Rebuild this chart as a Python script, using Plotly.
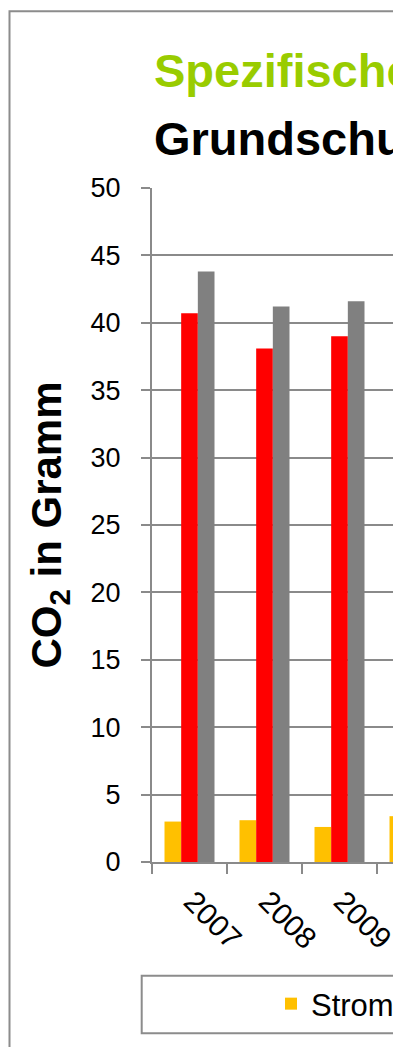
import plotly.graph_objects as go

# ---- data ----
years = ["2007", "2008", "2009", "2010"]
strom = [3.0, 3.1, 2.6, 3.4]
waerme = [40.7, 38.1, 39.0, None]
gesamt = [43.8, 41.2, 41.6, None]
series_names = ["Strom", "Wärme", "Gesamt"]
series_colors = ["#FFC000", "#FF0000", "#808080"]
title_line1 = "Spezifische CO₂-Emissionen"
title_line2 = "Grundschule"
y_title = "CO<sub>2</sub> in Gramm"
y_ticks = [0, 5, 10, 15, 20, 25, 30, 35, 40, 45, 50]

FONT = "Liberation Sans, Arial, sans-serif"
GRID = "#8a8a8a"

W, H = 385, 1047
ML, MR, MT, MB = 144, 0, 180, 193
PW = W - ML - MR
PH = H - MT - MB


def px_x(x):
    return (x - ML) / PW


def px_y(y):
    return (H - MB - y) / PH


fig = go.Figure()
for name, vals, col, show in zip(series_names, [strom, waerme, gesamt], series_colors, [True, False, False]):
    fig.add_trace(go.Bar(x=years, y=vals, name=name, marker=dict(color=col, line=dict(width=0)),
                         showlegend=show))

fig.update_layout(
    width=W, height=H,
    margin=dict(l=ML, r=MR, t=MT, b=MB, autoexpand=False),
    paper_bgcolor="white", plot_bgcolor="white",
    barmode="group", bargap=1/3, bargroupgap=0,
    font=dict(family=FONT, color="black"),
    showlegend=True,
    legend=dict(orientation="h", x=px_x(263), xanchor="left", y=px_y(969), yanchor="top",
                font=dict(size=31, family=FONT, color="black"), borderwidth=0,
                bgcolor="rgba(0,0,0,0)"),
)

fig.update_xaxes(
    type="category", range=[-0.5, -0.5 + PW / 75.0],
    showline=True, linecolor=GRID, linewidth=2,
    ticks="outside", tickson="boundaries", ticklen=10, tickwidth=2, tickcolor=GRID,
    tickangle=45, tickfont=dict(size=30, family=FONT, color="black"),
    ticklabelshift=3, ticklabelstandoff=8,
    showgrid=False, zeroline=False,
)
fig.update_yaxes(
    range=[0, 50], tickvals=y_ticks,
    showline=True, linecolor=GRID, linewidth=2,
    ticks="outside", ticklen=9, tickwidth=2, tickcolor=GRID,
    tickfont=dict(size=27, family=FONT, color="black"),
    ticklabelstandoff=15,
    showgrid=True, gridcolor=GRID, gridwidth=2, zeroline=False,
    title=dict(text=y_title, font=dict(size=42, family=FONT, color="black", weight="bold"), standoff=16),
)

# outer chart frame
fig.add_shape(type="rect", xref="paper", yref="paper",
              x0=px_x(1.5), x1=px_x(W + 50), y0=px_y(H + 50), y1=px_y(3.3),
              line=dict(color="#8c8c8c", width=2), fillcolor="rgba(0,0,0,0)", layer="below")
# legend frame
fig.add_shape(type="rect", xref="paper", yref="paper",
              x0=px_x(133.7), x1=px_x(W + 50), y0=px_y(1025.3), y1=px_y(967.7),
              line=dict(color="#8c8c8c", width=2), fillcolor="rgba(0,0,0,0)", layer="below")

# titles
fig.add_annotation(text="<b>" + title_line1 + "</b>", xref="paper", yref="paper",
                   x=px_x(144), y=px_y(62), xanchor="left", yanchor="middle", showarrow=False,
                   font=dict(size=47, family=FONT, color="#99CC00"))
fig.add_annotation(text="<b>" + title_line2 + "</b>", xref="paper", yref="paper",
                   x=px_x(144), y=px_y(130), xanchor="left", yanchor="middle", showarrow=False,
                   font=dict(size=47, family=FONT, color="black"))

fig.write_html("out.html")
